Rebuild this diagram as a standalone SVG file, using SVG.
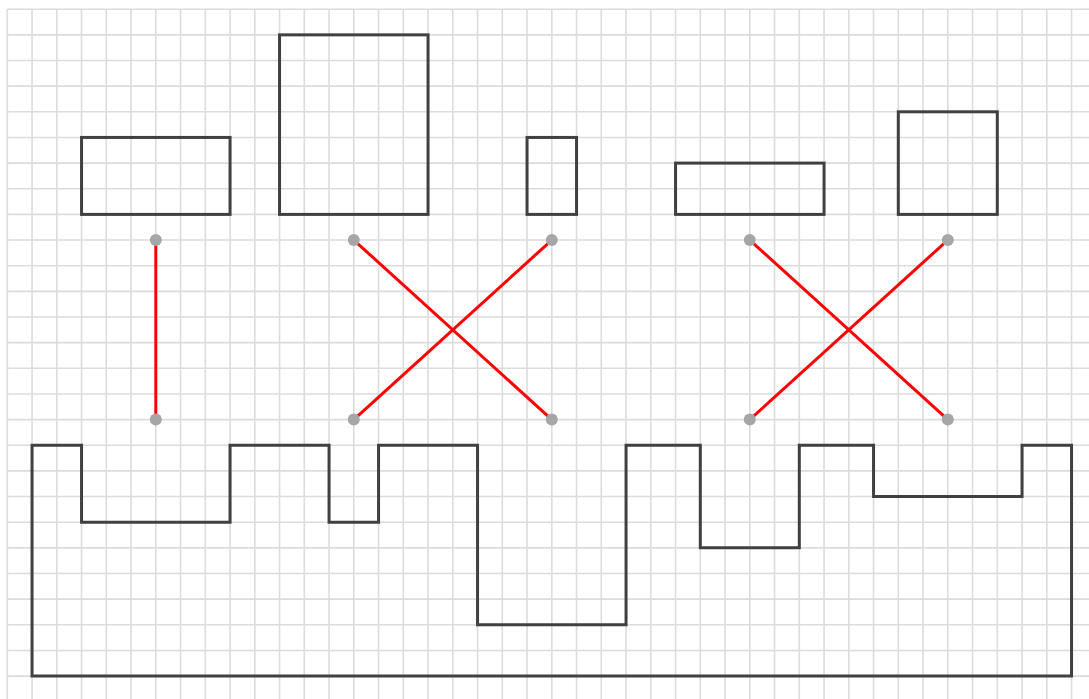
<svg xmlns="http://www.w3.org/2000/svg" width="1089" height="699" viewBox="0 0 1089 699">
<style>
.grid{stroke:#dcdcdc;stroke-width:1.6;fill:none}
.shape{stroke:#404040;stroke-width:3;fill:none;stroke-linejoin:miter}
.link{stroke:#ff0000;stroke-width:3;fill:none}
.dot{fill:#a6a6a6}
</style>
<rect width="1089" height="699" fill="#ffffff"/>
<g id="grid" class="grid">
<path d="M7.3 9.2V699M32.05 9.2V699M56.8 9.2V699M81.55 9.2V699M106.3 9.2V699M131.05 9.2V699M155.8 9.2V699M180.55 9.2V699M205.3 9.2V699M230.05 9.2V699M254.8 9.2V699M279.55 9.2V699M304.3 9.2V699M329.05 9.2V699M353.8 9.2V699M378.55 9.2V699M403.3 9.2V699M428.05 9.2V699M452.8 9.2V699M477.55 9.2V699M502.3 9.2V699M527.05 9.2V699M551.8 9.2V699M576.55 9.2V699M601.3 9.2V699M626.05 9.2V699M650.8 9.2V699M675.55 9.2V699M700.3 9.2V699M725.05 9.2V699M749.8 9.2V699M774.55 9.2V699M799.3 9.2V699M824.05 9.2V699M848.8 9.2V699M873.55 9.2V699M898.3 9.2V699M923.05 9.2V699M947.8 9.2V699M972.55 9.2V699M997.3 9.2V699M1022.05 9.2V699M1046.8 9.2V699M1071.55 9.2V699"/>
<path d="M7.3 9.2H1089M7.3 34.85H1089M7.3 60.5H1089M7.3 86.15H1089M7.3 111.8H1089M7.3 137.45H1089M7.3 163.1H1089M7.3 188.75H1089M7.3 214.4H1089M7.3 240.05H1089M7.3 265.7H1089M7.3 291.35H1089M7.3 317H1089M7.3 342.65H1089M7.3 368.3H1089M7.3 393.95H1089M7.3 419.6H1089M7.3 445.25H1089M7.3 470.9H1089M7.3 496.55H1089M7.3 522.2H1089M7.3 547.85H1089M7.3 573.5H1089M7.3 599.15H1089M7.3 624.8H1089M7.3 650.45H1089M7.3 676.1H1089"/>
</g>
<g id="rect1"><rect class="shape" x="81.55" y="137.45" width="148.5" height="76.95"/></g>
<g id="rect2"><rect class="shape" x="279.55" y="34.85" width="148.5" height="179.55"/></g>
<g id="rect3"><rect class="shape" x="527.05" y="137.45" width="49.5" height="76.95"/></g>
<g id="rect4"><rect class="shape" x="675.55" y="163.1" width="148.5" height="51.3"/></g>
<g id="rect5"><rect class="shape" x="898.3" y="111.8" width="99" height="102.6"/></g>
<g id="base"><path class="shape" d="M32.05 445.25H81.55V522.2H230.05V445.25H329.05V522.2H378.55V445.25H477.55V624.8H626.05V445.25H700.3V547.85H799.3V445.25H873.55V496.55H1022.05V445.25H1071.55V676.1H32.05Z"/></g>
<g id="connectors" class="link">
<line x1="155.8" y1="240.05" x2="155.8" y2="419.6"/>
<line x1="353.8" y1="240.05" x2="551.8" y2="419.6"/>
<line x1="551.8" y1="240.05" x2="353.8" y2="419.6"/>
<line x1="749.8" y1="240.05" x2="947.8" y2="419.6"/>
<line x1="947.8" y1="240.05" x2="749.8" y2="419.6"/>
</g>
<g id="dots" class="dot">
<circle cx="155.8" cy="240.05" r="6"/><circle cx="155.8" cy="419.6" r="6"/>
<circle cx="353.8" cy="240.05" r="6"/><circle cx="353.8" cy="419.6" r="6"/>
<circle cx="551.8" cy="240.05" r="6"/><circle cx="551.8" cy="419.6" r="6"/>
<circle cx="749.8" cy="240.05" r="6"/><circle cx="749.8" cy="419.6" r="6"/>
<circle cx="947.8" cy="240.05" r="6"/><circle cx="947.8" cy="419.6" r="6"/>
</g>
</svg>
